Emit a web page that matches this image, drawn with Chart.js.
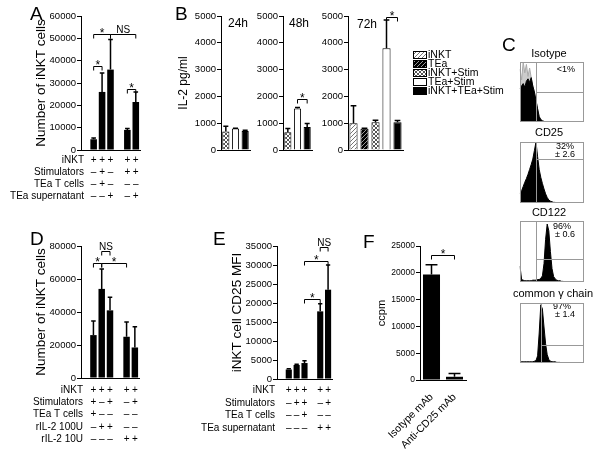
<!DOCTYPE html>
<html>
<head>
<meta charset="utf-8">
<script src="https://cdn.jsdelivr.net/npm/chart.js@4.4.0/dist/chart.umd.min.js"></script>
<style>
  body { margin: 0; background: #fff; }
  #fig { position: relative; width: 601px; height: 453px; overflow: hidden; background: #fff; }
  #fig canvas { position: absolute; left: 0; top: 0; }
</style>
</head>
<body>
<div id="fig"></div>
<script>
// DATA //

// A - iNKT cell numbers
const aConditions = ['iNKT', 'Stimulators', 'TEa T cells', 'TEa supernatant'];
const aSigns = [
  ['+', '+', '+', '+', '+'],
  ['–', '+', '–', '+', '+'],
  ['–', '+', '–', '–', '–'],
  ['–', '–', '+', '–', '+']
];
const aGroups = [3, 2];
const aCells = [4800, 26000, 36000, 9000, 21500];
const aErrTop = [5400, 34500, 49500, 9600, 26000];
const aBrackets = [[0, 1, 37500, '*'], [3, 4, 27500, '*'], [0, 2, 52000, '*'], [2, 4, 52000, 'NS']];

// B - IL-2 over time
const bConditions = ['iNKT', 'TEa', 'iNKT+Stim', 'TEa+Stim', 'iNKT+TEa+Stim'];
const b24Conditions = ['iNKT+Stim', 'TEa+Stim', 'iNKT+TEa+Stim'];
const b24Il2 = [690, 800, 710];
const b24ErrTop = [890, 810, 740];
const b48Conditions = ['iNKT+Stim', 'TEa+Stim', 'iNKT+TEa+Stim'];
const b48Il2 = [660, 1550, 860];
const b48ErrTop = [800, 1590, 990];
const b48Brackets = [[1, 2, 1900, '*']];
const b72Conditions = ['iNKT', 'TEa', 'iNKT+Stim', 'TEa+Stim', 'iNKT+TEa+Stim'];
const b72Il2 = [1000, 790, 1040, 3800, 1040];
const b72ErrTop = [1650, 810, 1110, 4850, 1100];
const b72Brackets = [[3, 4, 4950, '*']];

// C - flow histograms (41 bins each)
const isoCounts = [55, 60, 64, 58, 68, 72, 66, 74, 60, 50, 36, 22, 9, 4, 2, 1, 0, 0, 0, 0, 0, 0, 0, 0, 0, 0, 0, 0, 0, 0, 0, 0, 0, 0, 0, 0, 0, 0, 0, 0, 0];
const isoSpikes = [88, 70, 100, 82, 96, 76, 90, 74, 60, 50, 36, 22, 9, 4, 2, 1, 0, 0, 0, 0, 0, 0, 0, 0, 0, 0, 0, 0, 0, 0, 0, 0, 0, 0, 0, 0, 0, 0, 0, 0, 0];
const cd25Counts = [16, 20, 27, 34, 40, 47, 55, 63, 72, 86, 100, 76, 55, 42, 32, 23, 15, 9, 5, 3, 2, 1, 1, 0, 0, 0, 0, 0, 0, 0, 0, 0, 0, 0, 0, 0, 0, 0, 0, 0, 0];
const cd122Counts = [26, 4, 3, 2, 2, 2, 2, 2, 3, 3, 3, 4, 4, 6, 10, 30, 70, 95, 84, 50, 22, 9, 5, 3, 2, 2, 1, 1, 0, 0, 0, 0, 0, 0, 0, 0, 0, 0, 0, 0, 0];
const gammaCounts = [3, 2, 2, 2, 2, 2, 2, 2, 2, 3, 4, 12, 50, 97, 90, 60, 32, 14, 6, 3, 2, 2, 2, 1, 1, 1, 0, 0, 0, 0, 0, 0, 0, 0, 0, 0, 0, 0, 0, 0, 0];

// D - iNKT cell numbers with rIL-2
const dConditions = ['iNKT', 'Stimulators', 'TEa T cells', 'rIL-2 100U', 'rIL-2 10U'];
const dSigns = [
  ['+', '+', '+', '+', '+'],
  ['+', '–', '+', '–', '+'],
  ['+', '–', '–', '–', '–'],
  ['–', '+', '+', '–', '–'],
  ['–', '–', '–', '+', '+']
];
const dGroups = [3, 2];
const dCells = [26000, 54000, 41000, 25000, 18500];
const dErrTop = [34500, 66000, 49000, 34000, 31000];
const dBrackets = [[0, 1, 70000, '*'], [1, 3, 70000, '*'], [1, 2, 77000, 'NS']];

// E - CD25 MFI
const eConditions = ['iNKT', 'Stimulators', 'TEa T cells', 'TEa supernatant'];
const eSigns = [
  ['+', '+', '+', '+', '+'],
  ['–', '+', '+', '–', '+'],
  ['–', '–', '+', '–', '–'],
  ['–', '–', '–', '+', '+']
];
const eGroups = [3, 2];
const eMfi = [2500, 3700, 4200, 17800, 23500];
const eErrTop = [2700, 3900, 4800, 19800, 30000];
const eBrackets = [[2, 3, 21000, '*'], [2, 4, 31000, '*'], [3, 4, 34800, 'NS']];

// F - proliferation
const fLabels = ['Isotype mAb', 'Anti-CD25 mAb'];
const fCcpm = [19700, 600];
const fErrTop = [21500, 1200];
const fBrackets = [[0, 1, 23300, '*']];

// SETUP //

const family = "'Liberation Sans', Arial, Helvetica, sans-serif";
const font = size => size + 'px ' + family;

Chart.defaults.font.family = family;
Chart.defaults.color = '#000';
Chart.defaults.animation = false;
Chart.defaults.responsive = false;
Chart.defaults.devicePixelRatio = 1;
Chart.defaults.plugins.legend.display = false;
Chart.defaults.plugins.tooltip.enabled = false;

function addCanvas() {
  const c = document.createElement('canvas');
  c.width = 601;
  c.height = 453;
  document.getElementById('fig').appendChild(c);
  return c;
}

// insert an empty slot before each group of bars
function spread(values, groups, blank) {
  const out = [];
  let i = 0;
  groups.forEach(n => {
    out.push(blank);
    for (let k = 0; k < n; k++) out.push(values[i++]);
  });
  return out;
}

function slotOf(index, groups) {
  let slot = 0, i = 0;
  for (const n of groups) {
    slot++;
    if (index < i + n) return slot + index - i;
    slot += n;
    i += n;
  }
}

function hatch(bg, fg, cross) {
  const tile = document.createElement('canvas');
  tile.width = tile.height = 4;
  const t = tile.getContext('2d');
  t.fillStyle = bg;
  t.fillRect(0, 0, 4, 4);
  t.strokeStyle = fg;
  t.lineWidth = 1;
  t.beginPath();
  t.moveTo(-1, 5); t.lineTo(5, -1);
  t.moveTo(-1, 1); t.lineTo(1, -1);
  t.moveTo(3, 5); t.lineTo(5, 3);
  if (cross) {
    t.moveTo(-1, -1); t.lineTo(5, 5);
    t.moveTo(3, -1); t.lineTo(5, 1);
    t.moveTo(-1, 3); t.lineTo(1, 5);
  }
  t.stroke();
  return t.createPattern(tile, 'repeat');
}

const fills = {
  'iNKT': hatch('#fff', '#777'),
  'TEa': hatch('#000', '#999'),
  'iNKT+Stim': hatch('#fff', '#555', true),
  'TEa+Stim': '#fff',
  'iNKT+TEa+Stim': '#000'
};

// PLUGINS //

const errorBars = {
  id: 'errorBars',
  afterDatasetsDraw(chart, args, opts) {
    if (!opts.top) return;
    const ctx = chart.ctx;
    const y = chart.scales.y;
    const meta = chart.getDatasetMeta(0);
    ctx.save();
    ctx.strokeStyle = '#000';
    ctx.lineWidth = 1.5;
    meta.data.forEach((bar, i) => {
      const v = opts.top[i];
      if (v == null) return;
      const yTop = y.getPixelForValue(v);
      const half = bar.width * 0.35;
      ctx.beginPath();
      ctx.moveTo(bar.x, bar.y);
      ctx.lineTo(bar.x, yTop);
      ctx.moveTo(bar.x - half, yTop);
      ctx.lineTo(bar.x + half, yTop);
      ctx.stroke();
    });
    ctx.restore();
  }
};

const brackets = {
  id: 'brackets',
  afterDraw(chart, args, opts) {
    if (!opts.list) return;
    const ctx = chart.ctx;
    const { x, y } = chart.scales;
    ctx.save();
    ctx.strokeStyle = '#000';
    ctx.fillStyle = '#000';
    ctx.lineWidth = 1;
    ctx.textAlign = 'center';
    ctx.textBaseline = 'alphabetic';
    opts.list.forEach(([from, to, value, label]) => {
      const x1 = x.getPixelForValue(from);
      const x2 = x.getPixelForValue(to);
      const yy = Math.round(y.getPixelForValue(value)) + 0.5;
      ctx.beginPath();
      ctx.moveTo(x1, yy + 4);
      ctx.lineTo(x1, yy);
      ctx.lineTo(x2, yy);
      ctx.lineTo(x2, yy + 4);
      ctx.stroke();
      if (label === '*') {
        ctx.font = font(12);
        ctx.fillText(label, (x1 + x2) / 2, yy + 2);
      } else {
        ctx.font = font(10);
        ctx.fillText(label, (x1 + x2) / 2, yy - 2);
      }
    });
    ctx.restore();
  }
};

const signTable = {
  id: 'signTable',
  afterDraw(chart, args, opts) {
    if (!opts.rows) return;
    const ctx = chart.ctx;
    const x = chart.scales.x;
    ctx.save();
    ctx.font = font(10);
    ctx.fillStyle = '#000';
    ctx.textBaseline = 'middle';
    opts.rows.forEach((row, r) => {
      const yy = opts.top + r * opts.step;
      ctx.textAlign = 'right';
      ctx.fillText(row, opts.labelX, yy);
      ctx.textAlign = 'center';
      opts.signs[r].forEach((s, i) => {
        if (s) ctx.fillText(s, x.getPixelForValue(i), yy);
      });
    });
    ctx.restore();
  }
};

const labels = {
  id: 'labels',
  afterDraw(chart, args, opts) {
    if (!opts.items) return;
    const ctx = chart.ctx;
    ctx.save();
    ctx.fillStyle = '#000';
    ctx.textBaseline = 'middle';
    opts.items.forEach(([text, x, y, size, align]) => {
      ctx.font = font(size);
      ctx.textAlign = align || 'center';
      ctx.fillText(text, x, y);
    });
    ctx.restore();
  }
};

const swatchLegend = {
  id: 'swatchLegend',
  afterDraw(chart, args, opts) {
    if (!opts.items) return;
    const ctx = chart.ctx;
    ctx.save();
    ctx.font = font(10.5);
    ctx.textBaseline = 'middle';
    ctx.textAlign = 'left';
    opts.items.forEach((name, i) => {
      const yy = Math.round(opts.top + i * opts.step);
      ctx.fillStyle = fills[name];
      ctx.fillRect(opts.x, yy - 4, 14, 8);
      ctx.strokeStyle = '#000';
      ctx.lineWidth = 1;
      ctx.strokeRect(opts.x + 0.5, yy - 3.5, 13, 7);
      ctx.fillStyle = '#000';
      ctx.fillText(name, opts.x + 15, yy + 0.5);
    });
    ctx.restore();
  }
};

const gates = {
  id: 'gates',
  afterDraw(chart, args, opts) {
    if (opts.gate == null) return;
    const { ctx, chartArea: a } = chart;
    const { x, y } = chart.scales;
    ctx.save();
    ctx.strokeStyle = '#999';
    ctx.lineWidth = 1;
    ctx.strokeRect(a.left + 0.5, a.top + 0.5, a.width - 1, a.height - 1);
    const gx = Math.round(x.getPixelForValue(opts.gate)) + 0.5;
    const gy = Math.round(y.getPixelForValue(opts.level)) + 0.5;
    ctx.beginPath();
    ctx.moveTo(gx, a.top);
    ctx.lineTo(gx, a.bottom);
    ctx.moveTo(gx, gy);
    ctx.lineTo(a.right, gy);
    ctx.stroke();
    ctx.restore();
  }
};

Chart.register(errorBars, brackets, signTable, labels, swatchLegend, gates);

// AXES //

function yAxis(max, step, tickSize, width, title, titleSize) {
  return {
    min: 0,
    max: max,
    ticks: { stepSize: step, font: { size: tickSize }, padding: 1, callback: v => String(v) },
    grid: { drawOnChartArea: false, drawTicks: true, tickLength: 4, color: '#000', lineWidth: 1 },
    border: { display: true, color: '#000', width: 1 },
    title: title
      ? { display: true, text: title, font: { size: titleSize }, padding: { top: 0, bottom: 0 } }
      : { display: false },
    afterFit: s => { s.width = width; }
  };
}

function xAxis() {
  return {
    grid: { display: false },
    border: { display: true, color: '#000', width: 1 },
    ticks: { display: false },
    afterFit: s => { s.height = 0; }
  };
}

// PANEL A //

new Chart(addCanvas(), {
  type: 'bar',
  data: {
    labels: spread(aCells.map((_, i) => 'A' + (i + 1)), aGroups, ''),
    datasets: [{
      data: spread(aCells, aGroups, null),
      backgroundColor: '#000',
      categoryPercentage: 1,
      barPercentage: 0.78
    }]
  },
  options: {
    layout: { padding: { left: 33, top: 16, right: 461, bottom: 303 } },
    scales: { x: xAxis(), y: yAxis(60000, 10000, 9.5, 48, 'Number of iNKT cells', 13.5) },
    plugins: {
      errorBars: { top: spread(aErrTop, aGroups, null) },
      brackets: { list: aBrackets.map(([p, q, v, t]) => [slotOf(p, aGroups), slotOf(q, aGroups), v, t]) },
      signTable: { rows: aConditions, signs: aSigns.map(r => spread(r, aGroups, '')), labelX: 84, top: 160, step: 12.2 },
      labels: { items: [['A', 30, 15, 19, 'left']] }
    }
  }
});

// PANEL B //

function il2Chart(conds, values, errTop, list, pad, width, title, extra) {
  return new Chart(addCanvas(), {
    type: 'bar',
    data: {
      labels: conds,
      datasets: [{
        data: values,
        backgroundColor: conds.map(c => fills[c]),
        borderColor: '#000',
        borderWidth: 1,
        categoryPercentage: 1,
        barPercentage: 0.74
      }]
    },
    options: {
      layout: { padding: pad },
      scales: { x: xAxis(), y: yAxis(5000, 1000, 9.5, width, title, 12) },
      plugins: Object.assign({
        errorBars: { top: errTop },
        brackets: { list: list }
      }, extra)
    }
  });
}

il2Chart(b24Conditions, b24Il2, b24ErrTop, [], { left: 176, top: 16, right: 351, bottom: 303 }, 45, 'IL-2 pg/ml',
  { labels: { items: [['B', 175, 15, 19, 'left'], ['24h', 228, 24, 12, 'left']] } });
il2Chart(b48Conditions, b48Il2, b48ErrTop, b48Brackets, { left: 248, top: 16, right: 289, bottom: 303 }, 35, null,
  { labels: { items: [['48h', 289, 24, 12, 'left']] } });
il2Chart(b72Conditions, b72Il2, b72ErrTop, b72Brackets, { left: 313, top: 16, right: 198, bottom: 303 }, 35, null,
  {
    labels: { items: [['72h', 357, 25, 12, 'left']] },
    swatchLegend: { items: bConditions, x: 413, top: 55, step: 9 }
  });

// PANEL C //

function histogram(counts, spikes, box, gate, level, texts) {
  const datasets = [{
    data: counts,
    backgroundColor: '#000',
    borderColor: '#000',
    borderWidth: 1,
    fill: 'origin',
    pointRadius: 0,
    tension: 0
  }];
  if (spikes) {
    datasets.push({
      data: spikes,
      backgroundColor: '#ccc',
      borderColor: '#aaa',
      borderWidth: 1,
      fill: 'origin',
      pointRadius: 0,
      tension: 0
    });
  }
  return new Chart(addCanvas(), {
    type: 'line',
    data: { labels: counts.map((_, i) => i), datasets: datasets },
    options: {
      layout: { padding: { left: box[0], top: box[1], right: 601 - box[2], bottom: 453 - box[3] } },
      scales: {
        x: { display: false, offset: false },
        y: { display: false, min: 0, max: 100 }
      },
      plugins: {
        gates: { gate: gate, level: level },
        labels: { items: texts }
      }
    }
  });
}

histogram(isoCounts, isoSpikes, [520, 62, 584, 122], 10, 50,
  [['C', 502, 46, 19, 'left'], ['Isotype', 549, 54, 11], ['<1%', 575, 70, 9, 'right']]);
histogram(cd25Counts, null, [520, 142, 584, 203], 10, 72,
  [['CD25', 549, 133, 11], ['32%', 574, 147, 9, 'right'], ['± 2.6', 575, 155, 9, 'right']]);
histogram(cd122Counts, null, [520, 221, 584, 282], 10, 37,
  [['CD122', 549, 213, 11], ['96%', 571, 227, 9, 'right'], ['± 0.6', 575, 235, 9, 'right']]);
histogram(gammaCounts, null, [520, 303, 584, 363], 13, 30,
  [['common γ chain', 553, 294, 11], ['97%', 571, 307, 9, 'right'], ['± 1.4', 575, 315, 9, 'right']]);

// PANEL D //

new Chart(addCanvas(), {
  type: 'bar',
  data: {
    labels: spread(dCells.map((_, i) => 'D' + (i + 1)), dGroups, ''),
    datasets: [{
      data: spread(dCells, dGroups, null),
      backgroundColor: '#000',
      categoryPercentage: 1,
      barPercentage: 0.78
    }]
  },
  options: {
    layout: { padding: { left: 33, top: 246, right: 462, bottom: 75 } },
    scales: { x: xAxis(), y: yAxis(80000, 20000, 9.5, 48, 'Number of iNKT cells', 13.5) },
    plugins: {
      errorBars: { top: spread(dErrTop, dGroups, null) },
      brackets: { list: dBrackets.map(([p, q, v, t]) => [slotOf(p, dGroups), slotOf(q, dGroups), v, t]) },
      signTable: { rows: dConditions, signs: dSigns.map(r => spread(r, dGroups, '')), labelX: 83, top: 390, step: 12.3 },
      labels: { items: [['D', 30, 240, 19, 'left']] }
    }
  }
});

// PANEL E //

new Chart(addCanvas(), {
  type: 'bar',
  data: {
    labels: spread(eMfi.map((_, i) => 'E' + (i + 1)), eGroups, ''),
    datasets: [{
      data: spread(eMfi, eGroups, null),
      backgroundColor: '#000',
      categoryPercentage: 1,
      barPercentage: 0.78
    }]
  },
  options: {
    layout: { padding: { left: 229, top: 246, right: 269, bottom: 74 } },
    scales: { x: xAxis(), y: yAxis(35000, 5000, 9.5, 48, 'iNKT cell CD25 MFI', 13.5) },
    plugins: {
      errorBars: { top: spread(eErrTop, eGroups, null) },
      brackets: { list: eBrackets.map(([p, q, v, t]) => [slotOf(p, eGroups), slotOf(q, eGroups), v, t]) },
      signTable: { rows: eConditions, signs: eSigns.map(r => spread(r, eGroups, '')), labelX: 275, top: 390, step: 12.8 },
      labels: { items: [['E', 213, 240, 19, 'left']] }
    }
  }
});

// PANEL F //

new Chart(addCanvas(), {
  type: 'bar',
  data: {
    labels: fLabels,
    datasets: [{
      data: fCcpm,
      backgroundColor: '#000',
      categoryPercentage: 1,
      barPercentage: 0.74
    }]
  },
  options: {
    layout: { padding: { left: 375, top: 246, right: 135, bottom: 0 } },
    scales: {
      x: {
        grid: { display: false },
        border: { display: true, color: '#000', width: 1 },
        ticks: { font: { size: 10.5 }, minRotation: 45, maxRotation: 45, padding: 3, autoSkip: false },
        afterFit: s => { s.height = 73; }
      },
      y: yAxis(25000, 5000, 8.5, 45, 'ccpm', 11)
    },
    plugins: {
      errorBars: { top: fErrTop },
      brackets: { list: fBrackets },
      labels: { items: [['F', 363, 243, 19, 'left']] }
    }
  }
});
</script>
</body>
</html>
